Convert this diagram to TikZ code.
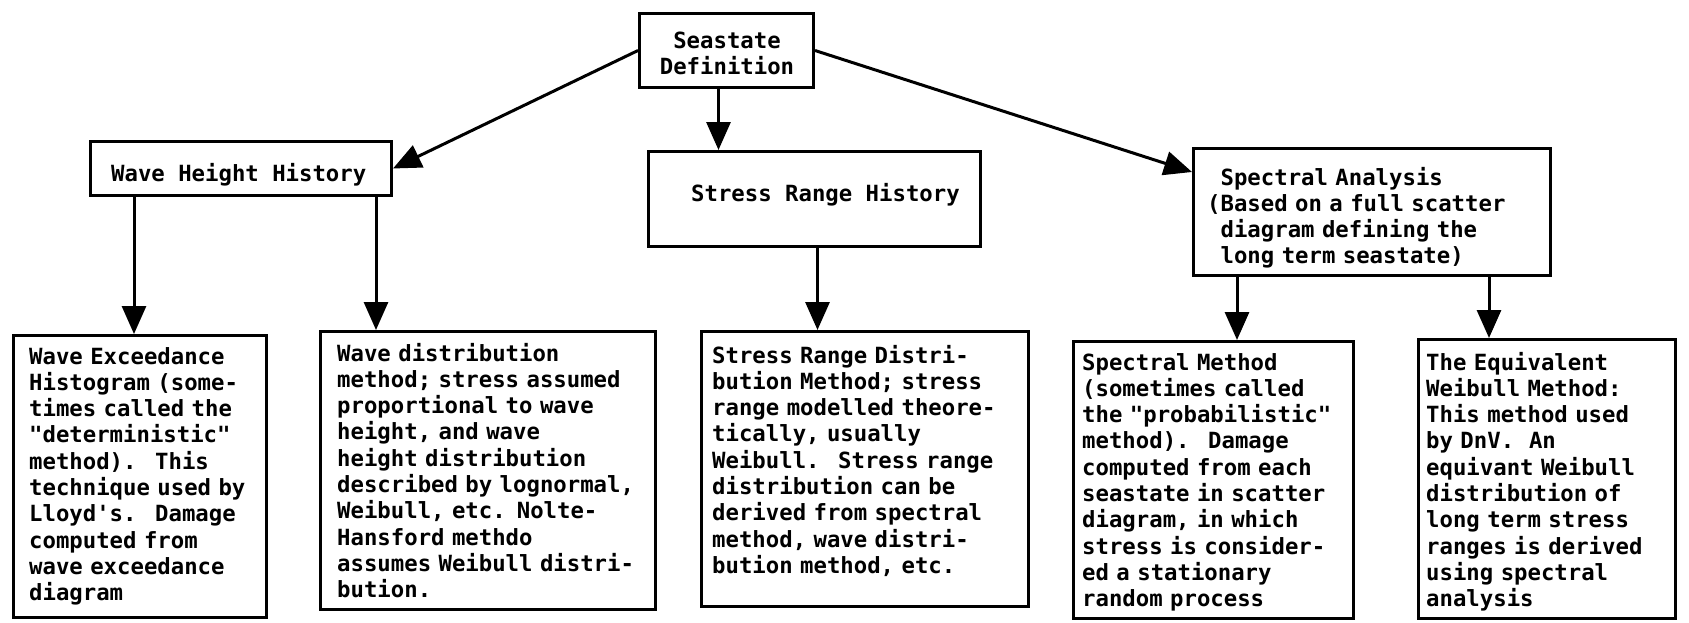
\documentclass[tikz,border=0pt]{standalone}
\usepackage{fontspec}
\setmonofont{DejaVu Sans Mono}
\usetikzlibrary{arrows.meta}
\tikzset{
  box/.style={draw, line width=3.2pt, inner sep=0pt},
  lbl/.style={font=\ttfamily\bfseries\fontsize{22.3}{26.3}\selectfont, inner sep=0pt},
  para/.style={lbl, text width=360pt, align=left, anchor=base west},
  arr/.style={line width=3pt, -{Triangle[length=28pt,width=24pt]}},
}
\begin{document}
\begin{tikzpicture}[x=1pt,y=-1pt]
\fill[white] (0,0) rectangle (1689,622);
\useasboundingbox (0,0) rectangle (1689,622);

% boxes
\node[box, minimum width=173.8pt, minimum height=73.8pt] (sd) at (726.5,50.5) {};
\node[box, minimum width=300.8pt, minimum height=53.8pt] (whh) at (241,168.5) {};
\node[box, minimum width=331.8pt, minimum height=94.8pt] (srh) at (814.5,199) {};
\node[box, minimum width=356.8pt, minimum height=126.8pt] (sa) at (1372,212) {};
\node[box, minimum width=252.8pt, minimum height=281.8pt] (b1) at (140,476.5) {};
\node[box, minimum width=334.8pt, minimum height=277.8pt] (b2) at (488,470.5) {};
\node[box, minimum width=326.8pt, minimum height=274.8pt] (b3) at (865,469) {};
\node[box, minimum width=279.8pt, minimum height=276.8pt] (b4) at (1213.5,480) {};
\node[box, minimum width=256.8pt, minimum height=278.8pt] (b5) at (1547,479) {};

% texts
\node[lbl, text width=170pt, align=center, anchor=base] (sdt) at (727,48) {Seastate\\Definition};
\node[lbl, anchor=base west] (whht) at (111,181) {Wave Height History};
\node[lbl, anchor=base west] (srht) at (691,201) {Stress Range History};
\node[para] (sat) at (1207,185) {\phantom{(}Spectral Analysis\\(Based on a full scatter\\\phantom{(}diagram defining the\\\phantom{(}long term seastate)};

\node[para] (b1t) at (29,364) {Wave Exceedance\\
Histogram (some-\\
times called the\\
"deterministic"\\
method).~ This\\
technique used by\\
Lloyd's.~ Damage\\
computed from\\
wave exceedance\\
diagram};

\node[para] (b2t) at (337,361) {Wave distribution\\
method; stress assumed\\
proportional to wave\\
height, and wave\\
height distribution\\
described by lognormal,\\
Weibull, etc. Nolte-\\
Hansford methdo\\
assumes Weibull distri-\\
bution.};

\node[para] (b3t) at (712,363) {Stress Range Distri-\\
bution Method; stress\\
range modelled theore-\\
tically, usually\\
Weibull.~ Stress range\\
distribution can be\\
derived from spectral\\
method, wave distri-\\
bution method, etc.};

\node[para] (b4t) at (1082,370) {Spectral Method\\
(sometimes called\\
the "probabilistic"\\
method).~ Damage\\
computed from each\\
seastate in scatter\\
diagram, in which\\
stress is consider-\\
ed a stationary\\
random process};

\node[para] (b5t) at (1426,370) {The Equivalent\\
Weibull Method:\\
This method used\\
by DnV.~ An\\
equivant Weibull\\
distribution of\\
long term stress\\
ranges is derived\\
using spectral\\
analysis};

% arrows
\draw[arr] (sd.west) -- (whh.east);
\draw[arr] ([xshift=-8pt]sd.south) -- ([xshift=-8pt]sd.south |- srh.north);
\draw[arr] (sd.east) -- ([yshift=40pt]sa.west);
\draw[arr] ([xshift=-107pt]whh.south) -- ([xshift=-107pt]whh.south |- b1.north);
\draw[arr] ([xshift=135pt]whh.south) -- ([xshift=135pt]whh.south |- b2.north);
\draw[arr] ([xshift=3pt]srh.south) -- ([xshift=3pt]srh.south |- b3.north);
\draw[arr] ([xshift=-135pt]sa.south) -- ([xshift=-135pt]sa.south |- b4.north);
\draw[arr] ([xshift=117pt]sa.south) -- ([xshift=117pt]sa.south |- b5.north);
\end{tikzpicture}
\end{document}
